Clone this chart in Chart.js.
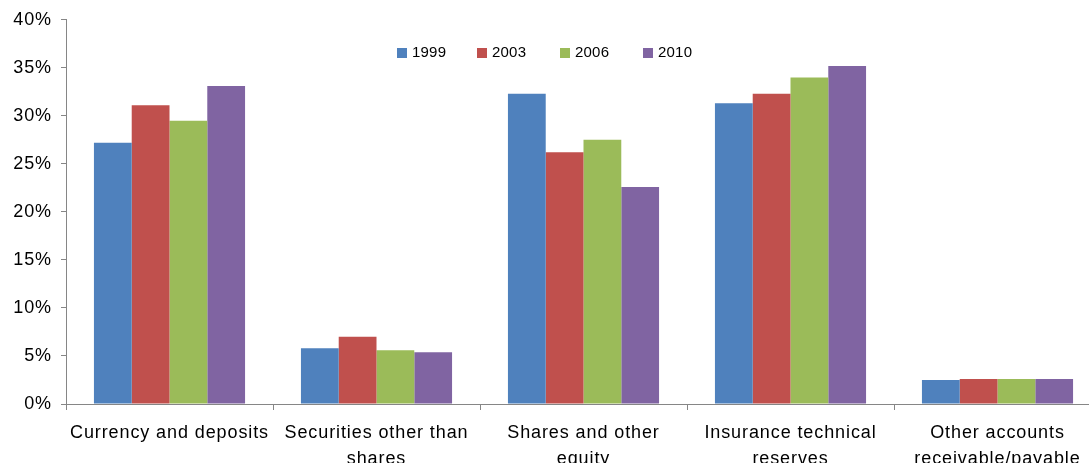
<!DOCTYPE html>
<html>
<head>
<meta charset="utf-8">
<script src="https://cdn.jsdelivr.net/npm/chart.js@4/dist/chart.umd.min.js"></script>
<style>
  html, body { margin: 0; padding: 0; background: #fff; overflow: hidden; }
  #wrap { width: 1089px; height: 463px; overflow: hidden; }
  canvas { display: block; }
</style>
</head>
<body>
<div id="wrap"><canvas id="c" width="1105" height="463" style="width:1105px;height:463px"></canvas></div>
<script>
const categories = [
  "Currency and deposits",
  ["Securities other than", "shares"],
  ["Shares and other", "equity"],
  ["Insurance technical", "reserves"],
  ["Other accounts", "receivable/payable"]
];
const seriesNames = ["1999", "2003", "2006", "2010"];
const values1999 = [27.2, 5.8, 32.3, 31.3, 2.5];
const values2003 = [31.1, 7.0, 26.2, 32.3, 2.6];
const values2006 = [29.5, 5.6, 27.5, 34.0, 2.6];
const values2010 = [33.1, 5.4, 22.6, 35.2, 2.6];
const yTicks = [0, 5, 10, 15, 20, 25, 30, 35, 40];

const colors = ["#4F81BD", "#C0504D", "#9BBB59", "#8064A2"];
const allValues = [values1999, values2003, values2006, values2010];
const FONT = "'Liberation Sans', Arial, sans-serif";

const spacingPlugin = {
  id: 'spacing',
  beforeUpdate(chart) { chart.ctx.letterSpacing = '0.9px'; },
  beforeDraw(chart) { chart.ctx.letterSpacing = '0.9px'; }
};

const legendPlugin = {
  id: 'insideLegend',
  afterDraw(chart) {
    const ctx = chart.ctx;
    const xs = [397, 477, 560, 643];
    const yc = 53;
    ctx.save();
    ctx.letterSpacing = '0.2px';
    ctx.font = "15px " + FONT;
    ctx.textBaseline = 'middle';
    ctx.textAlign = 'left';
    chart.data.datasets.forEach((ds, i) => {
      ctx.fillStyle = ds.backgroundColor;
      ctx.fillRect(xs[i], yc - 5, 10, 10);
      ctx.fillStyle = '#000';
      ctx.fillText(ds.label, xs[i] + 15, yc);
    });
    ctx.restore();
  }
};

new Chart(document.getElementById('c'), {
  type: 'bar',
  data: {
    labels: categories,
    datasets: seriesNames.map((n, i) => ({
      label: n,
      data: allValues[i],
      backgroundColor: colors[i],
      borderWidth: 0,
      categoryPercentage: 0.73,
      barPercentage: 1.0
    }))
  },
  options: {
    responsive: false,
    devicePixelRatio: 1,
    animation: false,
    layout: { padding: { top: 19, right: 4, left: 0, bottom: 0 } },
    plugins: {
      legend: { display: false },
      tooltip: { enabled: false }
    },
    scales: {
      x: {
        grid: { display: true, drawOnChartArea: false, drawTicks: true, tickLength: 6, color: '#868686', offset: true },
        border: { display: true, color: '#868686', width: 1 },
        ticks: { color: '#000', font: { family: FONT, size: 18, lineHeight: 1.45 }, padding: 10, maxRotation: 0, autoSkip: false },
        afterFit(s) { s.height = 59; }
      },
      y: {
        min: 0, max: 40,
        afterBuildTicks(s) { s.ticks = yTicks.map(v => ({ value: v })); },
        grid: { display: true, drawOnChartArea: false, drawTicks: true, tickLength: 5, color: '#868686' },
        border: { display: true, color: '#868686', width: 1 },
        ticks: { color: '#000', font: { family: FONT, size: 18 }, padding: 9, callback: v => v + '%' },
        afterFit(s) { s.width = 66; }
      }
    }
  },
  plugins: [spacingPlugin, legendPlugin]
});
</script>
</body>
</html>
